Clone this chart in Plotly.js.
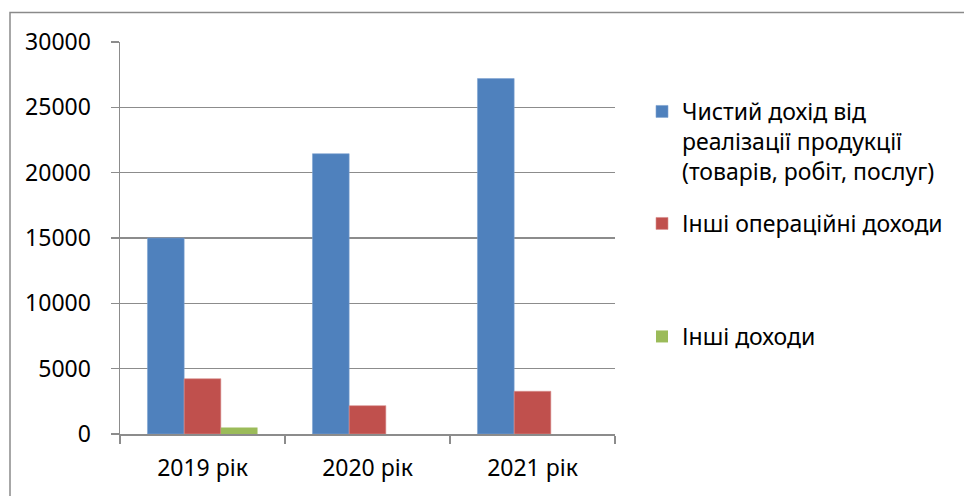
<!DOCTYPE html>
<html>
<head>
<meta charset="utf-8">
<script src="https://cdn.plot.ly/plotly-3.0.1.min.js"></script>
<style>
  html, body { margin: 0; padding: 0; background: #ffffff; }
  #chart { width: 964px; height: 496px; }
</style>
</head>
<body>
<div id="chart"></div>
<script>
// Categories (years) and series values, thousand UAH
const years = ['2019 рік', '2020 рік', '2021 рік'];
const netRevenue = [15000, 21450, 27200];
const otherOperating = [4230, 2170, 3270];
const otherIncome = [500, 0, 0];

const seriesNames = [
  'Чистий дохід від<br>реалізації продукції<br>(товарів, робіт, послуг)',
  'Інші операційні доходи',
  'Інші доходи'
];
const yTicks = [0, 5000, 10000, 15000, 20000, 25000, 30000];

const FONT = 'Noto Sans, Open Sans, sans-serif';
const FS = 23;
const GRID = '#8c8c8c';

const traces = [
  { type: 'bar', x: years, y: netRevenue, name: seriesNames[0], legend: 'legend',
    marker: { color: '#4F81BD', line: { color: '#7fa3d1', width: 0.6 } }, hoverinfo: 'skip' },
  { type: 'bar', x: years, y: otherOperating, name: seriesNames[1], legend: 'legend2',
    marker: { color: '#C0504D', line: { color: '#d9908e', width: 0.6 } }, hoverinfo: 'skip' },
  { type: 'bar', x: years, y: otherIncome, name: seriesNames[2], legend: 'legend3',
    marker: { color: '#9BBB59', line: { width: 0 } }, hoverinfo: 'skip' }
];

const legendBase = {
  xref: 'container', yref: 'container', xanchor: 'left', yanchor: 'top',
  bgcolor: 'rgba(0,0,0,0)', font: { family: FONT, size: FS, color: '#000' },
  valign: 'top', itemclick: false, itemdoubleclick: false
};

const layout = {
  width: 964, height: 496,
  margin: { l: 120, r: 349, t: 42, b: 62 },
  paper_bgcolor: '#ffffff', plot_bgcolor: '#ffffff',
  barmode: 'group', bargap: 0.333, bargroupgap: 0,
  font: { family: FONT, size: FS, color: '#000' },
  showlegend: true,
  legend: Object.assign({}, legendBase, { x: 642 / 964, y: 1 - 90 / 496 }),
  legend2: Object.assign({}, legendBase, { x: 642 / 964, y: 1 - 202 / 496 }),
  legend3: Object.assign({}, legendBase, { x: 642 / 964, y: 1 - 315 / 496 }),
  xaxis: {
    type: 'category', tickson: 'boundaries',
    ticks: 'outside', ticklen: 8, tickcolor: GRID, tickwidth: 1.5,
    showline: true, linecolor: GRID, linewidth: 1.5,
    showgrid: false, zeroline: false, ticklabelstandoff: 13,
    tickfont: { family: FONT, size: FS, color: '#000' }
  },
  yaxis: {
    range: [0, 30000], tickvals: yTicks, ticktext: yTicks.map(String),
    ticks: 'outside', ticklen: 8, tickcolor: GRID, tickwidth: 1.5,
    showline: true, linecolor: GRID, linewidth: 1.5,
    showgrid: true, gridcolor: GRID, gridwidth: 1.5,
    zeroline: false, ticklabelstandoff: 15,
    tickfont: { family: FONT, size: FS, color: '#000' }
  },
  shapes: [{
    type: 'rect', xref: 'paper', yref: 'paper',
    x0: (10 - 120) / 495, x1: (966 - 120) / 495,
    y0: (434 - 499) / 392, y1: (434 - 12.5) / 392,
    line: { color: '#8a8a8a', width: 1.5 }, fillcolor: 'rgba(0,0,0,0)', layer: 'below'
  }]
};

Plotly.newPlot('chart', traces, layout, { staticPlot: true, displayModeBar: false });
</script>
</body>
</html>
